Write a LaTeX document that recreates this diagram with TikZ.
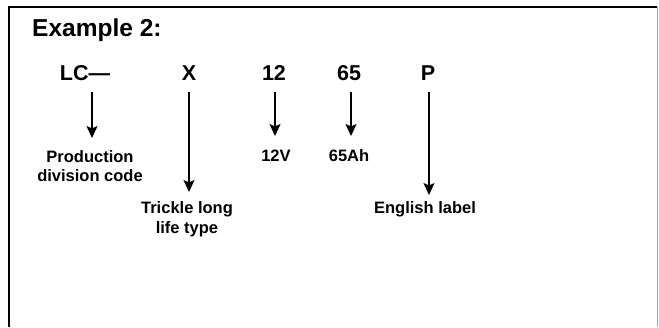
\documentclass[tikz,border=0pt]{standalone}
\usepackage{fontspec}
\setmainfont{Liberation Sans}
\usetikzlibrary{arrows.meta}
\begin{document}
\begin{tikzpicture}[x=1pt,y=-1pt,
  title/.style={font=\bfseries\fontsize{24.5}{27}\selectfont, anchor=west, inner sep=0pt},
  code/.style={font=\bfseries\fontsize{21.5}{24}\selectfont, inner sep=0pt},
  lab/.style={font=\bfseries\fontsize{16.5}{19.5}\selectfont, align=center, inner sep=0pt},
  arr/.style={line width=1.4pt, -{Stealth[length=12pt,width=11pt,inset=2.5pt]}}]
\useasboundingbox (0,0) rectangle (659,327);
% frame
\draw[line width=2.2pt, black] (9,327) -- (9,7) -- (657,7);
\draw[line width=1pt, gray!70] (657,7) -- (657,327);
% title
\node[title] (ttl) at (32,30) {Example 2:};
% codes
\node[code] (lc) at (85,73) {LC—};
\node[code] (x) at (189,73) {X};
\node[code] (n12) at (274,73) {12};
\node[code] (n65) at (349,73) {65};
\node[code] (p) at (428,73) {P};
% labels
\node[lab] (prod) at (90,166) {Production\\division code};
\node[lab] (v12) at (276,156) {12V};
\node[lab] (ah65) at (349,156) {65Ah};
\node[lab] (tri) at (187,219) {Trickle long\\life type};
\node[lab] (eng) at (425,209) {English label};
% arrow end points
\coordinate (s1) at (92,92);  \coordinate (e1) at (92,138);
\coordinate (s2) at (189,92); \coordinate (e2) at (189,192);
\coordinate (s3) at (275,92); \coordinate (e3) at (275,136);
\coordinate (s4) at (351,92); \coordinate (e4) at (351,136);
\coordinate (s5) at (429,92); \coordinate (e5) at (429,195);
\draw[arr] (s1) -- (e1);
\draw[arr] (s2) -- (e2);
\draw[arr] (s3) -- (e3);
\draw[arr] (s4) -- (e4);
\draw[arr] (s5) -- (e5);
\end{tikzpicture}
\end{document}
